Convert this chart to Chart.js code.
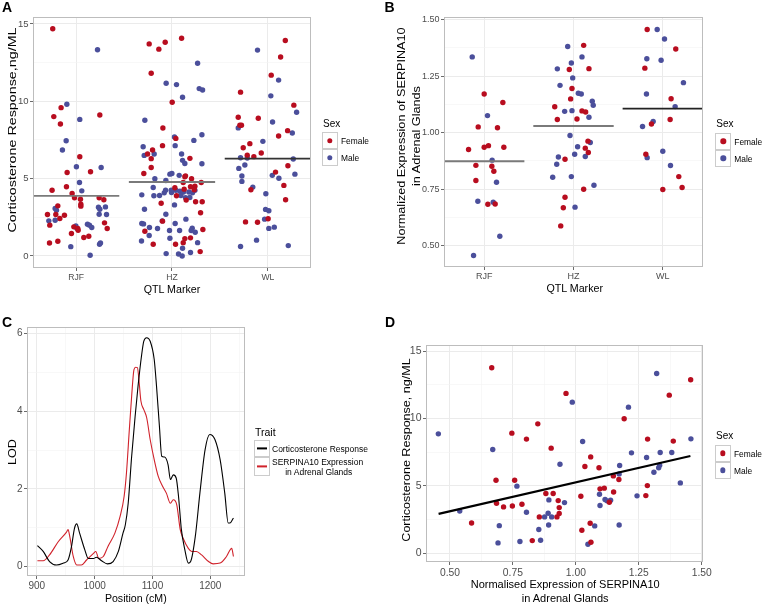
<!DOCTYPE html>
<html>
<head>
<meta charset="utf-8">
<script src="https://cdn.jsdelivr.net/npm/chart.js@4.4.1/dist/chart.umd.min.js"></script>
<style>
  body { margin: 0; background: #fff; }
  #fig { position: relative; width: 762px; height: 606px; overflow: hidden;
         font-family: "Liberation Sans", Arial, sans-serif; color: #000; }
  #fig canvas { position: absolute; }
  .t { position: absolute; white-space: nowrap; line-height: 1; }
  .key { position: absolute; box-sizing: border-box; border: 1px solid #cccccc; background: #fff; }
</style>
</head>
<body>
<div id="fig">
  <canvas id="cA" width="381" height="303" style="left:0;top:0"></canvas>
  <canvas id="cB" width="381" height="303" style="left:381px;top:0"></canvas>
  <canvas id="cC" width="381" height="303" style="left:0;top:303px"></canvas>
  <canvas id="cD" width="381" height="303" style="left:381px;top:303px"></canvas>
</div>
<script>
// ---- data ----
const markers = ["RJF", "HZ", "WL"];

// A: corticosterone response by QTL marker (x = jittered marker position)
const aFemX = [0.756,0.767,0.843,0.836,0.906,1.038,1.150,1.247,0.749,0.899,0.958,0.983,1.045,1.049,1.049,1.240,1.289,0.809,0.701,0.788,0.878,0.725,0.830,0.976,1.017,1.021,0.951,1.080,1.132,0.722,0.809,1.296,1.324,
  1.762,1.863,1.929,2.100,1.783,2.002,1.905,1.901,2.040,1.745,1.797,1.783,1.783,1.706,2.187,2.030,2.117,2.134,2.141,2.204,2.127,2.239,2.232,2.305,2.193,2.047,1.887,2.148,2.246,2.315,2.298,1.901,2.322,2.134,2.117,2.193,2.037,1.804,2.294,1.717,
  3.182,3.133,3.035,2.715,3.271,2.691,2.900,2.708,2.725,3.112,3.206,2.743,2.812,2.931,2.785,2.854,3.080,3.209,3.167,2.823,3.185,2.767,2.892,3.003];
const aFemY = [14.69,9.01,9.59,8.53,5.40,6.41,5.44,9.11,4.25,4.47,4.04,3.76,3.67,3.35,3.22,3.76,3.63,3.24,2.68,2.68,2.63,1.99,2.42,1.88,1.77,1.66,1.45,1.19,1.27,0.84,0.95,2.14,1.77,
  13.71,13.37,13.82,14.08,11.81,9.94,8.27,7.13,7.60,6.59,6.85,6.29,5.72,5.33,6.31,4.41,4.75,5.12,5.18,4.99,4.32,4.51,4.28,4.75,4.47,3.89,3.41,3.61,3.50,3.50,2.79,2.25,1.71,1.12,0.86,1.17,0.76,0.76,0.28,1.60,
  13.93,12.86,11.69,10.59,9.75,8.97,8.90,8.45,8.45,7.76,8.10,7.00,7.26,6.66,6.51,6.42,5.42,5.83,4.56,4.28,3.63,2.20,2.18,2.40];
const aMaleX = [1.223,0.903,1.038,0.896,0.857,1.003,1.261,1.035,1.059,0.781,0.795,0.715,0.781,1.233,1.247,1.240,1.306,1.317,0.997,1.007,1.118,1.139,1.163,0.944,1.146,1.244,1.254,
  2.267,1.939,2.047,2.110,2.284,2.319,1.717,2.312,2.228,2.026,2.033,1.699,1.710,1.814,2.100,2.110,2.134,2.312,1.978,1.999,2.075,1.936,1.821,1.685,1.804,1.811,1.870,1.919,1.933,1.713,1.936,1.685,1.703,1.765,1.849,1.898,1.974,1.682,1.762,1.978,1.939,1.992,1.995,2.040,2.082,2.093,2.120,2.176,2.214,2.239,2.141,2.186,2.026,2.145,2.033,2.211,2.200,2.242,2.079,2.267,2.110,2.068,2.106,2.193,
  2.892,3.112,3.031,3.300,3.049,2.691,3.255,2.948,2.715,2.785,3.265,2.760,2.697,2.729,2.729,3.046,3.115,3.282,2.843,2.979,2.976,3.010,2.966,3.010,3.067,2.882,2.715,3.213];
const aMaleY = [13.33,9.81,8.83,7.45,6.85,5.77,5.72,4.75,4.21,3.07,2.96,2.27,2.31,3.15,3.02,2.70,3.17,2.68,1.94,1.79,2.05,1.99,1.84,0.60,0.04,0.76,0.84,
  12.46,11.17,11.08,10.26,10.82,10.73,8.77,7.84,7.47,7.69,7.13,7.06,6.50,6.59,6.59,6.18,5.98,5.96,5.29,5.33,5.21,4.88,4.99,3.95,4.43,3.89,3.91,4.08,4.25,3.02,2.70,2.10,2.07,1.84,1.77,2.27,1.64,0.97,1.32,1.14,0.15,4.25,4.10,4.25,4.19,3.91,4.13,4.13,4.08,4.25,3.76,3.78,3.30,2.38,2.10,1.79,1.64,1.53,1.64,0.86,0.50,0.13,0.00,0.22,
  13.31,11.37,10.35,9.29,8.66,8.28,7.95,7.41,6.35,6.33,6.27,5.88,5.66,5.17,4.82,5.21,5.02,5.29,4.45,4.02,3.01,2.92,2.38,1.78,1.86,1.02,0.61,0.67];
const aMedians = [3.89, 4.78, 6.29];

// B: SERPINA10 expression by QTL marker
const bFemX = [1.000,1.209,0.933,1.149,0.825,1.000,1.048,1.220,0.907,1.086,1.108,0.907,1.041,1.123,
  1.953,1.983,1.968,1.790,1.819,1.905,1.905,1.886,1.857,2.114,2.173,2.095,2.136,2.039,2.162,2.132,2.166,2.114,
  2.825,3.145,2.799,3.093,3.082,2.873,2.810,3.179,3.000,3.216];
const bFemY = [1.171,1.133,1.025,1.021,0.925,0.935,0.942,0.935,0.855,0.851,0.829,0.788,0.683,0.684,
  1.279,1.195,1.149,1.114,1.058,0.882,0.714,0.667,0.587,1.386,1.283,1.096,1.091,1.060,0.962,0.931,0.912,0.749,
  1.456,1.370,1.285,1.150,1.058,1.038,0.904,0.805,0.748,0.757];
const bMaleX = [0.866,1.037,1.089,1.138,0.929,1.101,1.175,0.881,
  1.935,1.976,1.819,1.991,1.849,1.901,1.983,1.961,1.831,1.812,1.767,1.976,2.095,2.054,2.087,2.210,2.221,2.173,2.188,2.046,2.013,2.132,2.229,2.017,
  2.937,3.019,2.821,2.981,3.231,2.817,3.138,2.892,2.773,2.825,3.000,3.086];
const bMaleY = [1.335,1.075,0.878,0.780,0.696,0.692,0.541,0.456,
  1.381,1.308,1.282,1.242,1.209,1.094,1.097,0.987,0.892,0.860,0.802,0.805,1.335,1.174,1.171,1.139,1.121,1.068,0.956,0.937,0.904,0.894,0.767,0.670,
  1.456,1.414,1.327,1.320,1.221,1.171,1.115,1.049,1.027,0.889,0.917,0.854];
const bMedians = [0.873, 1.029, 1.106];

// C: LOD profiles along the chromosome
const cCortPos = [901,911,922,934,946,954,960,965,969,974,983,989,998,1003,1012,1022,1032,1041,1049,1053,1058,1064,1070,1075,1081,1085,1090,1096,1103,1107,1112,1116,1121,1127,1131,1136,1141,1145,1150,1156,1162,1166,1174,1182,1191,1199,1208,1217,1225,1231,1234,1240];
const cCortLod = [0.54,0.39,0.13,0.04,0.09,0.17,0.52,0.98,1.10,0.86,0.43,0.21,0.21,0.24,0.15,0.07,0.13,0.39,0.86,1.07,1.63,2.84,3.87,4.64,5.42,5.80,5.89,5.80,5.33,4.64,3.61,2.84,2.82,2.62,2.24,2.36,2.28,1.81,0.95,0.43,0.09,0.13,0.77,1.89,3.01,3.40,3.27,2.75,1.89,1.12,1.12,1.25];
const cSerpPos = [901,911,922,937,951,954,957,963,969,977,986,998,1002,1007,1015,1023,1035,1044,1051,1055,1060,1064,1068,1071,1074,1077,1080,1085,1090,1096,1103,1110,1117,1124,1131,1136,1142,1148,1153,1162,1168,1176,1185,1197,1205,1217,1228,1237,1240];
const cSerpLod = [0.15,0.15,0.30,0.64,0.88,0.95,0.77,0.26,0.04,0.04,0.17,0.34,0.39,0.21,0.26,0.52,0.86,1.29,1.81,2.41,3.53,4.39,5.07,5.13,5.12,4.73,4.26,4.04,3.83,3.27,2.75,2.32,2.08,1.89,1.63,1.72,1.59,0.95,0.73,0.47,0.39,0.39,0.30,0.13,0.07,0.09,0.26,0.47,0.26];

// D: corticosterone response vs SERPINA10 expression
const dFemX = [0.666,0.849,0.746,0.804,0.902,0.683,0.757,0.881,0.910,0.930,0.685,0.713,0.748,0.786,0.934,0.855,0.925,0.934,0.586,0.827,0.961,1.456,1.371,1.192,1.285,1.387,1.059,1.036,1.092,1.149,1.171,1.284,1.096,1.113,1.150,1.020,1.278,1.133,1.057,1.024,1.060];
const dFemY = [13.76,9.60,8.91,8.47,7.80,5.42,5.42,4.43,4.43,3.91,3.71,3.44,3.51,3.64,3.39,2.70,2.70,2.95,2.25,0.94,11.86,12.87,11.73,9.98,8.47,8.32,7.15,6.44,6.34,5.74,5.47,5.02,4.78,4.83,4.55,4.23,4.28,3.79,2.23,1.71,0.82];
const dMaleX = [0.454,0.670,0.937,0.766,0.893,0.539,0.804,0.890,0.876,0.904,0.696,0.892,0.853,0.955,0.691,0.778,0.860,0.986,1.321,1.209,1.027,1.457,1.221,1.281,1.335,1.381,1.174,1.310,1.329,1.333,1.415,1.172,1.094,1.243,1.116,1.124,1.138,1.096,1.075,1.172,1.048];
const dMaleY = [8.86,7.70,6.61,4.98,3.96,3.14,3.04,2.97,2.70,2.70,2.05,2.10,1.76,3.76,0.77,0.87,0.97,11.21,13.34,10.84,8.29,8.49,7.45,7.10,7.48,7.48,6.51,6.01,6.34,6.53,5.22,5.89,4.38,4.26,3.99,3.89,3.94,3.54,2.03,2.10,0.67];
const dFitX = [0.455, 1.455];
const dFitY = [2.92, 7.22];

// ---- styling ----
const FONT = '"Liberation Sans", Arial, sans-serif';
const RED = "#b80d1f", BLUE = "#4b4f9b", LINE_RED = "#d0222b";
const W = 381, H = 303;

const pts = (xs, ys) => xs.map((x, i) => ({ x: x, y: ys[i] }));

const panelBorder = {
  id: "panelBorder",
  afterDraw(chart) {
    const a = chart.chartArea, c = chart.ctx;
    c.save();
    c.strokeStyle = "#bdbdbd";
    c.lineWidth = 1;
    c.strokeRect(Math.round(a.left) + 0.5, Math.round(a.top) + 0.5,
                 Math.round(a.right - a.left) - 1, Math.round(a.bottom - a.top) - 1);
    c.restore();
  }
};

function axis(min, max, majors, minors, fmt, size, isX, fixed) {
  const isMajor = c => c.tick && majors.includes(c.tick.value);
  return {
    type: "linear", min: min, max: max,
    afterBuildTicks: s => {
      s.ticks = majors.concat(minors).sort((p, q) => p - q).map(v => ({ value: v }));
    },
    afterFit: s => { if (isX) s.height = fixed; else s.width = fixed; },
    ticks: {
      autoSkip: false, maxRotation: 0, padding: 1.5, color: "#4d4d4d",
      font: { size: size, family: FONT },
      callback: v => majors.includes(v) ? fmt(v) : ""
    },
    grid: {
      color: c => isMajor(c) ? "#ebebeb" : "#f4f4f4",
      lineWidth: c => isMajor(c) ? 1 : 0.6,
      tickLength: 3,
      tickColor: c => isMajor(c) ? "#6b6b6b" : "rgba(0,0,0,0)"
    },
    border: { display: false }
  };
}

function makeChart(id, area, xAxis, yAxis, datasets) {
  return new Chart(document.getElementById(id), {
    type: "scatter",
    data: { datasets: datasets },
    options: {
      responsive: false, animation: false, events: [],
      devicePixelRatio: 1,
      layout: { padding: { left: 0, top: area[1], right: W - area[2], bottom: 0 } },
      plugins: { legend: { display: false }, tooltip: { enabled: false } },
      scales: { x: xAxis, y: yAxis }
    },
    plugins: [panelBorder]
  });
}

const dotSet = (data, color) => ({
  data: data, backgroundColor: color, borderWidth: 0, pointRadius: 2.7, order: 2
});
const medianSets = (medians, colors) => medians.map((m, i) => ({
  data: [{ x: i + 1 - 0.45, y: m }, { x: i + 1 + 0.45, y: m }],
  showLine: true, pointRadius: 0, borderColor: colors[i], borderWidth: 1.8, order: 1
}));
const catFmt = v => markers[v - 1];

// Panel A
const areaA = [33, 17, 311, 268];
makeChart("cA", areaA,
  axis(0.55, 3.45, [1, 2, 3], [], catFmt, 8.6, true, H - areaA[3]),
  axis(-0.78, 15.45, [0, 5, 10, 15], [2.5, 7.5, 12.5], v => String(v), 9.5, false, areaA[0]),
  [dotSet(pts(aFemX, aFemY), RED), dotSet(pts(aMaleX, aMaleY), BLUE)]
    .concat(medianSets(aMedians, ["#7a7a7a", "#7a7a7a", "#333333"])));

// Panel B
const areaB = [63, 17, 322, 267];
makeChart("cB", areaB,
  axis(0.55, 3.45, [1, 2, 3], [], catFmt, 9, true, H - areaB[3]),
  axis(0.405, 1.5115, [0.5, 0.75, 1.0, 1.25, 1.5], [0.625, 0.875, 1.125, 1.375], v => v.toFixed(2), 9, false, areaB[0]),
  [dotSet(pts(bFemX, bFemY), RED), dotSet(pts(bMaleX, bMaleY), BLUE)]
    .concat(medianSets(bMedians, ["#7a7a7a", "#7a7a7a", "#222222"])));

// Panel C
const areaC = [27, 24, 245, 273];
const lodLine = (xs, ys, color) => ({
  data: pts(xs, ys), showLine: true, pointRadius: 0, borderColor: color,
  borderWidth: 1.1, cubicInterpolationMode: "monotone"
});
makeChart("cC", areaC,
  axis(883, 1260, [900, 1000, 1100, 1200], [950, 1050, 1150, 1250], v => String(v), 10, true, H - areaC[3]),
  axis(-0.242, 6.165, [0, 2, 4, 6], [1, 3, 5], v => String(v), 10, false, areaC[0]),
  [lodLine(cCortPos, cCortLod, "#000000"), lodLine(cSerpPos, cSerpLod, LINE_RED)]);

// Panel D
const areaD = [45, 42, 322, 259];
makeChart("cD", areaD,
  axis(0.405, 1.505, [0.5, 0.75, 1.0, 1.25, 1.5], [0.625, 0.875, 1.125, 1.375], v => v.toFixed(2), 10.3, true, H - areaD[3]),
  axis(-0.646, 15.45, [0, 5, 10, 15], [2.5, 7.5, 12.5], v => String(v), 10.5, false, areaD[0]),
  [dotSet(pts(dFemX, dFemY), RED), dotSet(pts(dMaleX, dMaleY), BLUE),
   { data: pts(dFitX, dFitY), showLine: true, pointRadius: 0, borderColor: "#000", borderWidth: 2.2, order: 1 }]);

// ---- text: panel letters, axis titles, legends ----
const fig = document.getElementById("fig");
function txt(html, cx, cy, size, extra) {
  const d = document.createElement("div");
  d.className = "t";
  d.innerHTML = html;
  d.style.left = cx + "px";
  d.style.top = cy + "px";
  d.style.fontSize = size + "px";
  d.style.transform = "translate(-50%,-50%)" + ((extra && extra.tf) || "");
  if (extra && extra.bold) d.style.fontWeight = "bold";
  if (extra && extra.lh) { d.style.lineHeight = extra.lh + "px"; d.style.textAlign = "center"; }
  if (extra && extra.left) d.style.transform = "translate(0,-50%)";
  if (extra && extra.color) d.style.color = extra.color;
  fig.appendChild(d);
  return d;
}

txt("A", 7, 7, 14, { bold: true });
txt("B", 389.5, 7, 14, { bold: true });
txt("C", 7, 321.5, 14, { bold: true });
txt("D", 390, 322, 14, { bold: true });

txt("Corticosterone Response,ng/ML", 11.7, 130, 11, { tf: " rotate(-90deg) scaleX(1.3)" });
txt("QTL Marker", 172, 289, 10.7);
txt("Normalized Expression of SERPINA10<br>in Adrenal Glands", 408, 136, 11, { lh: 14.5, tf: " rotate(-90deg) scaleX(1.15)" });
txt("QTL Marker", 574.7, 288, 10.7);
txt("LOD", 11.7, 451.7, 11, { tf: " rotate(-90deg) scaleX(1.15)" });
txt("Position (cM)", 135.8, 598, 10.6);
txt("Corticosterone Response, ng/ML", 406, 449.7, 11, { tf: " rotate(-90deg) scaleX(1.14)" });
txt("Normalised Expression of SERPINA10<br>in Adrenal Glands", 565.2, 591.3, 11, { lh: 13.3 });

function keyBox(x, y, w, h) {
  const k = document.createElement("div");
  k.className = "key";
  k.style.left = x + "px"; k.style.top = y + "px";
  k.style.width = w + "px"; k.style.height = h + "px";
  fig.appendChild(k);
  return k;
}
function dotKey(x, y, color) {
  const k = keyBox(x, y, 16, 17);
  const d = document.createElement("div");
  d.style.cssText = "position:absolute;left:50%;top:50%;width:5.4px;height:5.4px;border-radius:50%;transform:translate(-50%,-50%);background:" + color;
  k.appendChild(d);
}
function lineKey(x, y, h, color) {
  const k = keyBox(x, y, 16.3, h);
  const d = document.createElement("div");
  d.style.cssText = "position:absolute;left:2px;right:2px;top:50%;height:1.2px;transform:translateY(-50%);background:" + color;
  k.appendChild(d);
}
function sexLegend(x, titleY, keyTop) {
  txt("Sex", x + 1, titleY, 10, { left: true });
  dotKey(x, keyTop, RED);
  dotKey(x, keyTop + 17, BLUE);
  txt("Female", x + 19, keyTop + 8.8, 8.4, { left: true });
  txt("Male", x + 19, keyTop + 25.8, 8.4, { left: true });
}
sexLegend(322, 124, 132);
sexLegend(715.3, 124, 132.7);
sexLegend(715, 436, 444.7);

txt("Trait", 255, 432.3, 10.5, { left: true });
lineKey(254, 439.7, 17.3, "#000");
lineKey(254, 457, 18.7, LINE_RED);
txt("Corticosterone Response", 272, 449.3, 8.5, { left: true });
txt("SERPINA10 Expression<br>&nbsp;in Adrenal Glands", 272, 467.3, 8.5, { left: true, lh: 10 });
</script>
</body>
</html>
